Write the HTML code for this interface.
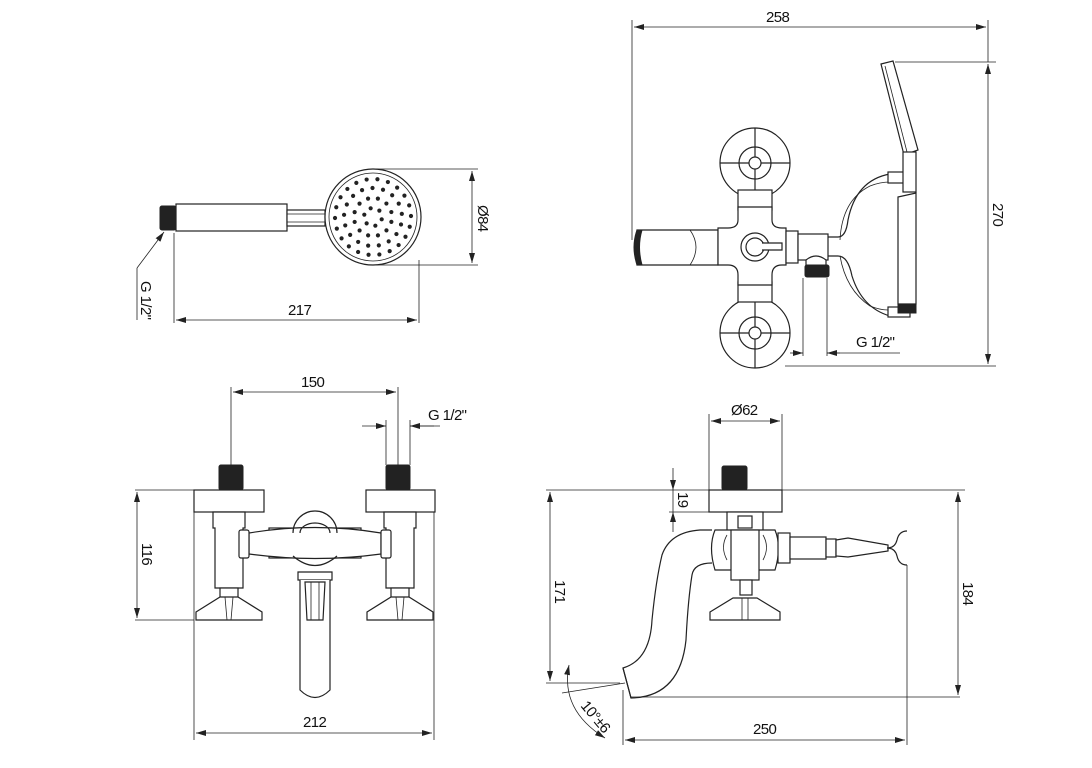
<!DOCTYPE html>
<html><head><meta charset="utf-8"><style>
html,body{margin:0;padding:0;background:#fff}
svg{display:block}
text{font-family:"Liberation Sans Narrow","Liberation Sans",sans-serif;font-size:15px;fill:#111;letter-spacing:-0.6px}
.l{stroke:#222;stroke-width:1.2;fill:none}
.t{stroke:#222;stroke-width:0.8;fill:none}
.w{stroke:#222;stroke-width:1.2;fill:#fff}
.d{fill:#222;stroke:#222}
</style></head><body>
<svg width="1092" height="768" viewBox="0 0 1092 768" xmlns="http://www.w3.org/2000/svg">
<defs>
<marker id="a" viewBox="0 0 10 6" refX="10" refY="3" markerWidth="10" markerHeight="6" orient="auto-start-reverse" markerUnits="userSpaceOnUse"><path d="M0,0 L10,3 L0,6 z" fill="#222"/></marker>
</defs>

<!-- ===== Top-left hand shower ===== -->
<rect x="160" y="206" width="16" height="24" class="d" rx="2"/>
<rect x="176" y="204" width="111" height="27" class="w"/>
<rect x="287" y="210" width="38" height="16" class="w"/>
<line x1="287" y1="214" x2="325" y2="214" class="t"/><line x1="287" y1="222" x2="325" y2="222" class="t"/>
<circle cx="373" cy="217" r="48" class="w"/>
<circle cx="373" cy="217" r="44" class="t"/>
<g fill="#222" id="dots"></g>
<!-- dims -->
<line x1="373" y1="169" x2="478" y2="169" class="t"/>
<line x1="373" y1="265" x2="478" y2="265" class="t"/>
<line x1="472" y1="171" x2="472" y2="263" class="t" marker-start="url(#a)" marker-end="url(#a)"/>
<text transform="translate(478,205) rotate(90)">Ø84</text>
<line x1="174" y1="233" x2="174" y2="323" class="t"/>
<line x1="419" y1="260" x2="419" y2="323" class="t"/>
<line x1="176" y1="320" x2="417" y2="320" class="t" marker-start="url(#a)" marker-end="url(#a)"/>
<text x="288" y="315">217</text>
<line x1="137" y1="320" x2="137" y2="268" class="t"/>
<line x1="137" y1="268" x2="164" y2="232" class="t" marker-end="url(#a)"/>
<text transform="translate(141,281) rotate(90)">G 1/2"</text>

<!-- ===== Top-right view ===== -->
<line x1="632" y1="20" x2="632" y2="240" class="t"/>
<line x1="988" y1="20" x2="988" y2="62" class="t"/>
<line x1="634" y1="27" x2="986" y2="27" class="t" marker-start="url(#a)" marker-end="url(#a)"/>
<text x="766" y="22">258</text>
<line x1="895" y1="62" x2="996" y2="62" class="t"/>
<line x1="785" y1="366" x2="996" y2="366" class="t"/>
<line x1="988" y1="64" x2="988" y2="364" class="t" marker-start="url(#a)" marker-end="url(#a)"/>
<text transform="translate(993,203) rotate(90)">270</text>
<!-- spout -->
<path d="M637,230 L718,230 L718,265 L637,265 Z" class="w"/>
<path d="M637,230 Q631,247 637,265 L642,265 Q637,247 642,230Z" class="d"/>
<path d="M690,230 Q702,247 690,265" class="t"/>
<!-- handles -->
<g>
<circle cx="755" cy="163" r="35" class="w"/>
<circle cx="755" cy="163" r="16" class="l" stroke-width="3"/>
<line x1="755" y1="128" x2="755" y2="198" class="l"/><line x1="720" y1="163" x2="790" y2="163" class="l"/>
<circle cx="755" cy="163" r="6" class="w"/>
<circle cx="755" cy="333" r="35" class="w"/>
<circle cx="755" cy="333" r="16" class="l" stroke-width="3"/>
<line x1="755" y1="298" x2="755" y2="368" class="l"/><line x1="720" y1="333" x2="790" y2="333" class="l"/>
<circle cx="755" cy="333" r="6" class="w"/>
</g>
<rect x="738" y="190" width="34" height="20" class="w"/>
<rect x="738" y="282" width="34" height="20" class="w"/>
<path d="M738,207 L772,207 L772,220 Q772,228 782,228 L786,228 L786,265 L782,265 Q772,265 772,275 L772,285 L738,285 L738,275 Q738,265 728,265 L718,265 L718,228 L728,228 Q738,228 738,220 Z" class="w"/>
<circle cx="755" cy="247" r="14" class="l"/><circle cx="755" cy="247" r="9" class="l"/>
<path d="M762,243 L782,243 L782,250 L762,250" class="w"/>
<rect x="786" y="231" width="12" height="32" class="w"/>
<rect x="798" y="234" width="30" height="26" class="w"/>
<path d="M806,260 Q816,252 826,260 L826,266 L806,266 Z" class="w"/>
<rect x="805" y="265" width="24" height="12" class="d" rx="2"/>
<!-- hose -->
<path d="M828,237 L838,237 Q846,237 848,220 Q856,180 890,174" class="l"/>
<path d="M828,256 L838,256 Q848,256 852,276 Q862,308 890,316" class="l"/>
<path d="M840,240 Q842,200 870,186 Q880,182 890,182 M840,256 Q846,290 870,306 Q880,310 888,310" class="t"/>
<rect x="888" y="172" width="23" height="11" class="w"/>
<rect x="888" y="307" width="22" height="10" class="w"/>
<!-- hand shower -->
<path d="M881,64 L893,61 L918,150 L904,155 Z" class="w"/>
<path d="M885,66 L907,152" class="t"/>
<rect x="903" y="152" width="13" height="40" class="w"/>
<path d="M898,197 L916,193 L916,304 L898,304 Z" class="w"/>
<rect x="898" y="304" width="18" height="9" class="d"/>
<line x1="803" y1="278" x2="803" y2="356" class="t"/>
<line x1="827" y1="278" x2="827" y2="356" class="t"/>
<line x1="790" y1="353" x2="803" y2="353" class="t" marker-end="url(#a)"/>
<line x1="840" y1="353" x2="827" y2="353" class="t" marker-end="url(#a)"/>
<line x1="827" y1="353" x2="900" y2="353" class="t"/>
<text x="856" y="347">G 1/2"</text>

<!-- ===== Bottom-left front view ===== -->
<line x1="231" y1="387" x2="231" y2="465" class="t"/>
<line x1="398" y1="387" x2="398" y2="465" class="t"/>
<line x1="233" y1="392" x2="396" y2="392" class="t" marker-start="url(#a)" marker-end="url(#a)"/>
<text x="301" y="387">150</text>
<line x1="386" y1="420" x2="386" y2="465" class="t"/>
<line x1="410" y1="420" x2="410" y2="465" class="t"/>
<line x1="362" y1="426" x2="386" y2="426" class="t" marker-end="url(#a)"/>
<line x1="434" y1="426" x2="410" y2="426" class="t" marker-end="url(#a)"/>
<line x1="410" y1="426" x2="440" y2="426" class="t"/>
<text x="428" y="420">G 1/2"</text>
<rect x="219" y="465" width="24" height="25" class="d" rx="2"/>
<rect x="386" y="465" width="24" height="25" class="d" rx="2"/>
<rect x="194" y="490" width="70" height="22" class="w"/>
<rect x="366" y="490" width="69" height="22" class="w"/>
<line x1="135" y1="490" x2="194" y2="490" class="t"/>
<line x1="135" y1="620" x2="194" y2="620" class="t"/>
<line x1="137" y1="492" x2="137" y2="618" class="t" marker-start="url(#a)" marker-end="url(#a)"/>
<text transform="translate(142,543) rotate(90)">116</text>
<!-- bodies -->
<path d="M213,512 L245,512 L245,528 L243,528 L243,588 L215,588 L215,528 L213,528 Z" class="w"/>
<path d="M384,512 L416,512 L416,528 L414,528 L414,588 L386,588 L386,528 L384,528 Z" class="w"/>
<rect x="220" y="588" width="18" height="10" class="w"/>
<rect x="391" y="588" width="18" height="10" class="w"/>
<rect x="269" y="528" width="92" height="30" class="w"/>
<path d="M249,533 Q315,522 381,533 L381,554 Q315,563 249,554 Z" class="w"/>
<rect x="239" y="530" width="10" height="28" class="w" rx="2"/>
<rect x="381" y="530" width="10" height="28" class="w" rx="2"/>
<path d="M293,533 A22,22 0 0 1 337,533" class="l"/>
<path d="M300,533 A15,10 0 0 1 330,533" class="l" stroke-width="2"/>
<path d="M293,556 Q315,575 337,556" class="l"/>
<path d="M298,572 L332,572 L332,580 L298,580 Z" class="w"/>
<path d="M300,580 L300,690 Q315,705 330,690 L330,580" class="w"/>
<path d="M305,582 L325,582 L323,620 L307,620 Z" class="w"/>
<line x1="311" y1="582" x2="311" y2="620" class="t"/><line x1="319" y1="582" x2="319" y2="620" class="t"/>
<path d="M196,612 L220,597 L238,597 L262,612 L262,620 L196,620 Z" class="w"/>
<path d="M367,612 L391,597 L409,597 L433,612 L433,620 L367,620 Z" class="w"/>
<line x1="225" y1="597" x2="227" y2="620" class="t"/><line x1="233" y1="597" x2="231" y2="620" class="t"/>
<line x1="396" y1="597" x2="398" y2="620" class="t"/><line x1="404" y1="597" x2="402" y2="620" class="t"/>
<line x1="194" y1="512" x2="194" y2="740" class="t"/>
<line x1="434" y1="512" x2="434" y2="740" class="t"/>
<line x1="196" y1="733" x2="432" y2="733" class="t" marker-start="url(#a)" marker-end="url(#a)"/>
<text x="303" y="727">212</text>

<!-- ===== Bottom-right side view ===== -->
<line x1="709" y1="414" x2="709" y2="490" class="t"/>
<line x1="782" y1="414" x2="782" y2="490" class="t"/>
<line x1="711" y1="421" x2="780" y2="421" class="t" marker-start="url(#a)" marker-end="url(#a)"/>
<text x="731" y="415">Ø62</text>
<rect x="722" y="466" width="25" height="24" class="d" rx="2"/>
<rect x="709" y="490" width="73" height="22" class="w"/>
<line x1="546" y1="490" x2="709" y2="490" class="t"/>
<line x1="782" y1="490" x2="965" y2="490" class="t"/>
<line x1="669" y1="512" x2="709" y2="512" class="t"/>
<line x1="673" y1="468" x2="673" y2="490" class="t" marker-end="url(#a)"/>
<line x1="673" y1="532" x2="673" y2="512" class="t" marker-end="url(#a)"/>
<line x1="673" y1="490" x2="673" y2="512" class="t"/>
<text transform="translate(678,492) rotate(90)">19</text>
<line x1="550" y1="492" x2="550" y2="681" class="t" marker-start="url(#a)" marker-end="url(#a)"/>
<line x1="546" y1="683" x2="620" y2="683" class="t"/>
<text transform="translate(555,580) rotate(90)">171</text>
<!-- spout S -->
<path d="M712,530 L700,530 Q670,532 662,555 Q656,580 652,620 Q650,660 623,668 L631,698 Q680,697 686,640 Q688,600 692,575 Q694,563 712,563" class="w"/>
<line x1="623" y1="668" x2="631" y2="698" class="l"/>
<!-- valve -->
<rect x="727" y="512" width="36" height="20" class="w"/>
<rect x="738" y="516" width="14" height="12" class="w"/>
<path d="M715,530 L775,530 Q782,547 775,570 L715,570 Q708,547 715,530Z" class="w"/>
<path d="M727,535 Q720,547 727,560" class="t"/><path d="M763,535 Q770,547 763,560" class="t"/>
<rect x="731" y="530" width="28" height="50" class="w"/>
<rect x="740" y="580" width="12" height="15" class="w"/>
<path d="M710,612 L733,598 L757,598 L780,612 L780,620 L710,620 Z" class="w"/>
<line x1="742" y1="598" x2="742" y2="620" class="t"/><line x1="748" y1="598" x2="748" y2="620" class="t"/>
<rect x="778" y="533" width="12" height="30" class="w"/>
<rect x="790" y="537" width="36" height="22" class="w"/>
<rect x="826" y="539" width="10" height="18" class="w"/>
<path d="M836,540 L848,538 L888,545 L888,551 L848,557 L836,556 Z" class="w"/>
<path d="M887,548 Q895,548 897,540 Q899,531 907,531 M887,548 Q895,548 897,556 Q899,565 907,565" class="l" stroke-width="2.4"/>
<line x1="907" y1="565" x2="907" y2="745" class="t"/>
<line x1="631" y1="697" x2="960" y2="697" class="t"/>
<line x1="958" y1="492" x2="958" y2="695" class="t" marker-start="url(#a)" marker-end="url(#a)"/>
<text transform="translate(963,582) rotate(90)">184</text>
<line x1="623" y1="690" x2="623" y2="745" class="t"/>
<line x1="625" y1="740" x2="905" y2="740" class="t" marker-start="url(#a)" marker-end="url(#a)"/>
<text x="753" y="734">250</text>
<!-- angle -->
<line x1="562" y1="693" x2="625" y2="683" class="t"/>
<path d="M569,665 Q560,710 605,738" class="t" marker-start="url(#a)" marker-end="url(#a)"/>
<text transform="translate(580,706) rotate(50)">10°±6</text>
</svg>
<script>
(function(){var g=document.getElementById('dots'),ns='http://www.w3.org/2000/svg';
var rings=[[9,6],[19,12],[29,17],[38,22]];
rings.forEach(function(r){for(var i=0;i<r[1];i++){var a=2*Math.PI*i/r[1]+0.26;var c=document.createElementNS(ns,'circle');c.setAttribute('cx',373+r[0]*Math.cos(a));c.setAttribute('cy',217+r[0]*Math.sin(a));c.setAttribute('r',2.1);g.appendChild(c);}});})();
</script>
</body></html>
